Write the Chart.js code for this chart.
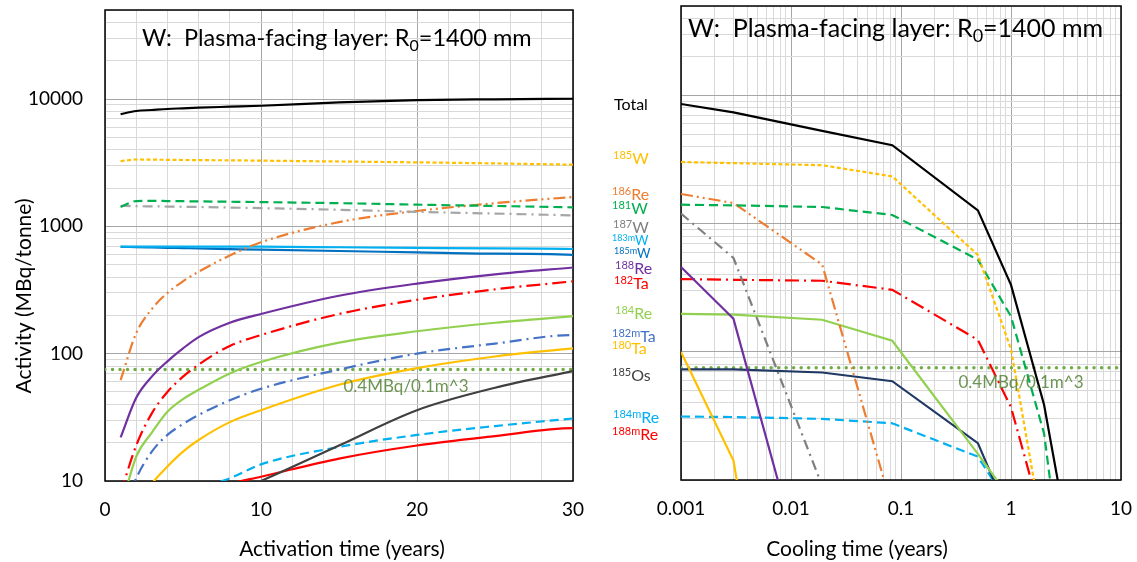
<!DOCTYPE html>
<html>
<head>
<meta charset="utf-8">
<script src="https://cdn.jsdelivr.net/npm/chart.js@4.4.1/dist/chart.umd.min.js"></script>
<style>
  body { margin: 0; background: #fff; width: 1137px; height: 562px; overflow: hidden; position: relative; font-family: Lato, sans-serif; }
  #left { position: absolute; left: 0; top: 0; }
  #right { position: absolute; left: 590px; top: 0; }
  .iso { position: absolute; font-size: 16px; line-height: 16px; white-space: nowrap; }
  .iso sup { font-size: 11px; position: relative; top: -0.45em; vertical-align: baseline; }
  .iso.small { font-size: 13px; }
  .iso.small sup { font-size: 9px; }
</style>
</head>
<body>
<canvas id="left" width="590" height="562"></canvas>
<canvas id="right" width="547" height="562"></canvas>
<div id="labels"></div>
<script>
// activation time (years) and cooling time (years)
const actTime = [1, 2, 3, 4, 5, 6, 8, 10, 15, 20, 25, 30];
const coolTime = [0.001, 0.003, 0.0192, 0.0833, 0.5, 1, 2, 5, 10];
const limitValue = 75; // 0.4MBq/0.1m^3

const actTickLabels = ["0", "10", "20", "30"];
const coolTickLabels = ["0.001", "0.01", "0.1", "1", "10"];
const activityTickLabels = ["10", "100", "1000", "10000"];

// activity during irradiation (MBq/tonne)
const actTotal = [7600, 8050, 8200, 8350, 8450, 8550, 8700, 8850, 9400, 9800, 9950, 10050];
const actW185 = [3250, 3350, 3340, 3330, 3320, 3310, 3300, 3280, 3230, 3180, 3120, 3050];
const actW181 = [1420, 1580, 1585, 1580, 1575, 1570, 1560, 1550, 1520, 1480, 1445, 1410];
const actW187 = [1450, 1440, 1435, 1430, 1425, 1420, 1405, 1390, 1350, 1300, 1260, 1220];
const actRe186 = [62, 145, 224, 300, 370, 440, 590, 750, 1080, 1320, 1520, 1700];
const actW183m = [692, 692, 692, 692, 692, 692, 692, 692, 685, 678, 671, 664];
const actW185m = [690, 686, 682, 678, 674, 670, 663, 656, 640, 625, 610, 596];
const actRe188 = [22, 45, 66, 87, 110, 135, 175, 205, 285, 355, 420, 475];
const actTa182 = [8, 19, 34, 50, 66, 82, 115, 140, 205, 265, 320, 370];
const actRe184 = [6, 15.5, 24, 35, 44, 52, 70, 86, 122, 150, 175, 197];
const actTa182m = [5, 10.5, 17, 23, 28, 33, 43, 53, 75, 100, 120, 140];
const actTa180 = [3, 6, 9.5, 13, 17, 21, 29, 36, 57, 77, 95, 110];
const actOs185 = [0.8, 1.6, 2.5, 3.5, 4.6, 5.7, 7.9, 10, 19, 36, 54, 73];
const actRe184m = [2, 3.5, 5, 6.5, 7.8, 8.8, 10.5, 13.5, 18.5, 23, 27, 31];
const actRe188m = [1.5, 3, 4.5, 5.8, 7, 8, 9.5, 10.8, 15, 19, 22.5, 26];
const shutdownValue = 0.1; // short-lived nuclides right after shutdown

// activity after shutdown (MBq/tonne)
const coolTotal = [8600, 7400, 5300, 4100, 1270, 333, 38.5, 0.5, 0.05];
const coolW185 = [3030, 2970, 2860, 2340, 570, 105, 3.5, 0.01, null];
const coolW181 = [1407, 1390, 1350, 1170, 524, 189, 23, 0.05, null];
const coolRe186 = [1706, 1450, 480, 6, null, null, null, null, null];
const coolW187 = [1200, 540, 9, null, null, null, null, null, null];
const coolRe188 = [460, 181, 0.55, null, null, null, null, null, null];
const coolTa182 = [370, 365, 359, 305, 124, 37, 4.3, 0.012, null];
const coolRe184 = [198, 195, 178, 122, 16, 7, 0.5, null, null];
const coolTa180 = [100, 14.2, 0.001, null, null, null, null, null, null];
const coolOs185 = [73, 73, 69, 59, 19.4, 4.8, 0.33, null, null];
const coolRe184m = [31.3, 31, 30, 27.7, 15.2, 6, 1.3, 0.01, null];

const series = [
  { name: "Total", color: "#000000", dash: [], act: actTotal, cool: coolTotal },
  { name: "185W", color: "#FFC000", dash: [4, 2.5], act: actW185, cool: coolW185 },
  { name: "181W", color: "#00B050", dash: [9, 5], act: actW181, cool: coolW181 },
  { name: "187W", color: "#A6A6A6", coolColor: "#7F7F7F", dash: [10, 5, 2, 5], act: actW187, cool: coolW187 },
  { name: "186Re", color: "#ED7D31", dash: [12, 4, 2, 4, 2, 4], act: actRe186, cool: coolRe186 },
  { name: "183mW", color: "#00B0F0", dash: [], act: actW183m, drop: true },
  { name: "185mW", color: "#0070C0", dash: [], act: actW185m, drop: true },
  { name: "188Re", color: "#7030A0", dash: [], act: actRe188, cool: coolRe188 },
  { name: "182Ta", color: "#FF0000", dash: [14, 5, 2, 5], act: actTa182, cool: coolTa182 },
  { name: "184Re", color: "#92D050", dash: [], act: actRe184, cool: coolRe184 },
  { name: "182mTa", color: "#4472C4", dash: [12, 5, 2, 5], act: actTa182m, drop: true },
  { name: "180Ta", color: "#FFC000", dash: [], act: actTa180, cool: coolTa180 },
  { name: "185Os", color: "#404040", coolColor: "#203864", dash: [], act: actOs185, cool: coolOs185 },
  { name: "184mRe", color: "#00B0F0", dash: [9, 5], act: actRe184m, cool: coolRe184m },
  { name: "188mRe", color: "#FF0000", dash: [], act: actRe188m, drop: true },
];

// labels between the two panels
const isoLabels = [
  { sym: "Total", mass: "", color: "#000000", y: 104, x: 614 },
  { sym: "W", mass: "185", color: "#FFC000", y: 158, x: 613 },
  { sym: "Re", mass: "186", color: "#ED7D31", y: 194, x: 612 },
  { sym: "W", mass: "181", color: "#00B050", y: 208, x: 612 },
  { sym: "W", mass: "187", color: "#7F7F7F", y: 227, x: 613 },
  { sym: "W", mass: "183m", color: "#00B0F0", y: 240, x: 612, small: true },
  { sym: "W", mass: "185m", color: "#0070C0", y: 253, x: 614, small: true },
  { sym: "Re", mass: "188", color: "#7030A0", y: 268, x: 615 },
  { sym: "Ta", mass: "182", color: "#FF0000", y: 283, x: 614 },
  { sym: "Re", mass: "184", color: "#92D050", y: 313, x: 615 },
  { sym: "Ta", mass: "182m", color: "#4472C4", y: 336, x: 612 },
  { sym: "Ta", mass: "180", color: "#FFC000", y: 348, x: 612 },
  { sym: "Os", mass: "185", color: "#404040", y: 375, x: 612 },
  { sym: "Re", mass: "184m", color: "#00B0F0", y: 417, x: 613 },
  { sym: "Re", mass: "188m", color: "#FF0000", y: 434, x: 612 },
];

const labelBox = document.getElementById("labels");
isoLabels.forEach((l) => {
  const d = document.createElement("div");
  d.className = "iso" + (l.small ? " small" : "");
  d.style.left = l.x + "px";
  d.style.top = l.y - 8 + "px";
  d.style.color = l.color;
  d.innerHTML = (l.mass ? "<sup>" + l.mass + "</sup>" : "") + l.sym;
  labelBox.appendChild(d);
});

Chart.defaults.font.family = "Lato, sans-serif";
Chart.defaults.color = "#000";

const MAJOR = "#A6A6A6";
const MINOR = "#D9D9D9";

const isDecade = (v) => Math.abs(Math.log10(v) - Math.round(Math.log10(v))) < 1e-6;

// 1,2,...,9 x 10^e gridline positions
const logTicks = (min, max) => {
  const out = [];
  for (let e = Math.floor(Math.log10(min)); e <= Math.ceil(Math.log10(max)); e++) {
    for (let m = 1; m < 10; m++) {
      const v = m * Math.pow(10, e);
      if (v >= min * 0.999 && v <= max * 1.001) out.push(v);
    }
  }
  return out;
};

// fixed axis box, no extra room for end labels
const fixBox = (size) => (sc) => {
  if (sc.isHorizontal()) sc.height = size; else sc.width = size;
  sc.paddingLeft = sc.paddingRight = sc.paddingTop = sc.paddingBottom = 0;
};

const drawTitle = (ctx, x, y, size) => {
  ctx.font = `${size}px Lato`;
  ctx.fillStyle = "#000";
  ctx.textAlign = "left";
  ctx.textBaseline = "alphabetic";
  const a = "W:  Plasma-facing layer: R";
  ctx.fillText(a, x, y);
  let cx = x + ctx.measureText(a).width;
  ctx.font = `${Math.round(size * 0.7)}px Lato`;
  ctx.fillText("0", cx, y + size * 0.2);
  cx += ctx.measureText("0").width;
  ctx.font = `${size}px Lato`;
  ctx.fillText("=1400 mm", cx, y);
};

const textPlugin = (opts) => ({
  id: "texts",
  beforeDatasetsDraw(chart) {
    const { ctx, chartArea: a } = chart;
    ctx.save();
    ctx.strokeStyle = "#000";
    ctx.lineWidth = 1.5;
    ctx.strokeRect(a.left, a.top, a.right - a.left, a.bottom - a.top);
    ctx.restore();
  },
  afterDraw(chart) {
    const { ctx } = chart;
    ctx.save();
    drawTitle(ctx, opts.titleX, opts.titleY, opts.titleSize);

    ctx.font = "17px Lato";
    ctx.fillStyle = "rgba(84,130,53,0.85)";
    ctx.textAlign = "center";
    ctx.textBaseline = "middle";
    ctx.fillText("0.4MBq/0.1m^3", opts.limX, opts.limY);

    ctx.fillStyle = "#000";
    ctx.font = "21px Lato";
    ctx.fillText(opts.xTitle, opts.xTitleX, 549);
    if (opts.yTitle) {
      ctx.translate(24, 296);
      ctx.rotate(-Math.PI / 2);
      ctx.fillText(opts.yTitle, 0, 0);
    }
    ctx.restore();
  },
});

const lineStyle = (s, color) => ({
  label: s.name,
  borderColor: color,
  backgroundColor: color,
  borderWidth: 2.2,
  borderDash: s.dash,
  pointRadius: 0,
  fill: false,
});

const limitStyle = {
  label: "limit",
  borderColor: "#70AD47",
  borderWidth: 3.5,
  borderDash: [0.01, 7.5],
  borderCapStyle: "round",
  pointRadius: 0,
};

// ---------- left panel: activation ----------
const leftSets = series.map((s) => {
  const pts = s.act.map((v, i) => ({ x: actTime[i], y: v }));
  if (s.drop) pts.push({ x: 30.03, y: shutdownValue });
  return { ...lineStyle(s, s.color), data: pts, cubicInterpolationMode: "monotone" };
});
leftSets.push({ ...limitStyle, data: [{ x: 0, y: limitValue }, { x: 30, y: limitValue }] });

new Chart(document.getElementById("left"), {
  type: "line",
  data: { datasets: leftSets },
  options: {
    responsive: false,
    animation: false,
    layout: { padding: { top: 10, right: 17, left: 0, bottom: 0 } },
    plugins: { legend: { display: false }, tooltip: { enabled: false } },
    scales: {
      x: {
        type: "linear",
        min: 0,
        max: 30,
        afterBuildTicks: (sc) => {
          sc.ticks = [];
          for (let v = 0; v <= 30; v += 2) sc.ticks.push({ value: v });
        },
        afterFit: fixBox(81),
        ticks: {
          autoSkip: false,
          maxRotation: 0,
          padding: 17,
          font: { size: 19 },
          callback: (v) => (v % 10 === 0 ? actTickLabels[v / 10] : ""),
        },
        grid: {
          drawTicks: false,
          color: (c) => (c.tick && c.tick.value % 10 === 0 ? MAJOR : MINOR),
        },
        border: { display: false },
      },
      y: {
        type: "logarithmic",
        min: 10,
        max: 50000,
        afterBuildTicks: (sc) => { sc.ticks = logTicks(10, 50000).map((v) => ({ value: v })); },
        afterFit: fixBox(105),
        ticks: {
          autoSkip: false,
          padding: 22,
          font: { size: 19 },
          callback: (v) => (isDecade(v) ? activityTickLabels[Math.round(Math.log10(v)) - 1] : ""),
        },
        grid: {
          drawTicks: false,
          color: (c) => (c.tick && isDecade(c.tick.value) ? MAJOR : MINOR),
        },
        border: { display: false },
      },
    },
  },
  plugins: [textPlugin({
    titleX: 142, titleY: 46, titleSize: 23.5, limX: 406, limY: 387,
    xTitle: "Activation time (years)", xTitleX: 342, yTitle: "Activity (MBq/tonne)",
  })],
});

// ---------- right panel: cooling ----------
const rightSets = series.filter((s) => s.cool).map((s) => ({
  ...lineStyle(s, s.coolColor || s.color),
  data: s.cool.map((v, i) => ({ x: coolTime[i], y: v })),
  tension: 0,
}));
rightSets.push({ ...limitStyle, data: [{ x: 0.001, y: limitValue }, { x: 10, y: limitValue }] });

new Chart(document.getElementById("right"), {
  type: "line",
  data: { datasets: rightSets },
  options: {
    responsive: false,
    animation: false,
    layout: { padding: { top: 6, right: 16, left: 0, bottom: 0 } },
    plugins: { legend: { display: false }, tooltip: { enabled: false } },
    scales: {
      x: {
        type: "logarithmic",
        min: 0.001,
        max: 10,
        afterBuildTicks: (sc) => { sc.ticks = logTicks(0.001, 10).map((v) => ({ value: v })); },
        afterFit: fixBox(82),
        ticks: {
          autoSkip: false,
          maxRotation: 0,
          padding: 17,
          font: { size: 19 },
          callback: (v) => (isDecade(v) ? coolTickLabels[Math.round(Math.log10(v)) + 3] : ""),
        },
        grid: {
          drawTicks: false,
          color: (c) => (c.tick && isDecade(c.tick.value) ? MAJOR : MINOR),
        },
        border: { display: false },
      },
      y: {
        type: "logarithmic",
        min: 10,
        max: 50000,
        afterBuildTicks: (sc) => { sc.ticks = logTicks(10, 50000).map((v) => ({ value: v })); },
        afterFit: fixBox(91),
        ticks: { display: false },
        grid: {
          drawTicks: false,
          color: (c) => (c.tick && isDecade(c.tick.value) ? MAJOR : MINOR),
        },
        border: { display: false },
      },
    },
  },
  plugins: [textPlugin({
    titleX: 98, titleY: 37, titleSize: 25, limX: 431, limY: 383,
    xTitle: "Cooling time (years)", xTitleX: 267,
  })],
});
</script>
</body>
</html>
